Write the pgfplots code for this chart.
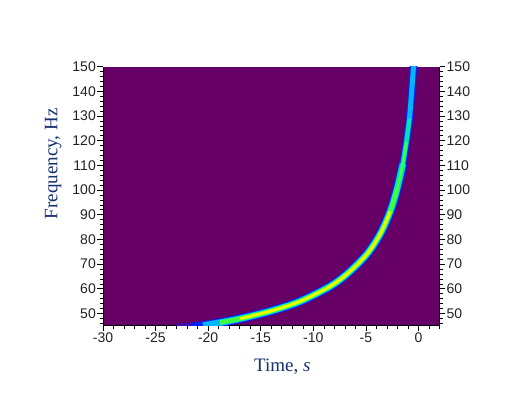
\documentclass[border=0pt]{standalone}
\usepackage{pgfplots}
\usepackage{pgfplotstable}
\usepackage{fontspec}
\pgfplotsset{compat=1.18}
\setmainfont{Liberation Sans}
\newfontfamily\labelfont{Liberation Serif}
\definecolor{bgc}{HTML}{660066}
\definecolor{labc}{HTML}{14306E}
\definecolor{tickc}{HTML}{222222}
\definecolor{c1}{HTML}{3A10B0}
\definecolor{c2}{HTML}{0020FF}
\definecolor{c3}{HTML}{00B4FF}
\definecolor{c4}{HTML}{00E8B0}
\definecolor{c5}{HTML}{40FF40}
\definecolor{c6}{HTML}{E8FF00}

% ridge of the spectrogram
\pgfplotstableread{
t f
-23.0 44.0
-21.5 44.5
-20.49 45.1
-18.87 46.3
-16.96 47.9
-14.11 50.9
-11.26 54.9
-8.40 61.0
-6.69 66.4
-4.91 74.0
-3.64 82.2
-2.69 91.3
-2.05 100.2
-1.48 110.6
-1.15 119.5
-0.86 129.0
-0.69 137.5
-0.47 150.0
-0.35 157.0
}\ridge

\pgfplotsset{
  common/.style={
    scale only axis, width=336.5pt, height=259.2pt,
    at={(103pt,83.2pt)}, anchor=south west,
    xmin=-30, xmax=2, ymin=45, ymax=150,
    ytick={50,60,...,150}, minor ytick={46,48,...,150},
    tick align=outside,
    major tick length=5.5pt, minor tick length=3pt,
    tick style={black, line width=0.6pt},
    /pgf/number format/assume math mode=true,
    tick label style={font=\fontsize{14}{14}\selectfont, color=tickc, inner sep=1.5pt},
    axis line style={black, line width=0.6pt},
  },
  band/.style={no markers, smooth, line cap=butt, forget plot},
}
% colour, width, domain of one layer of the band
\newcommand\layer[4]{\addplot[band, #1, line width=#2pt, restrict x to domain=#3:#4] table[x=t,y=f] {\ridge};}

\begin{document}
\begin{tikzpicture}[x=1pt,y=1pt]
\useasboundingbox (0,0) rectangle (529,409);
\begin{axis}[common,
  axis background/.style={fill=bgc},
  axis x line*=bottom, axis y line*=left,
  xtick={-30,-25,...,0}, minor xtick={-29,-28,...,2},
  xlabel={\labelfont Time, \textit{s}},
  xlabel style={font=\fontsize{19}{19}\selectfont, color=labc, at={(axis description cs:0.533,-0.116)}, anchor=north},
  ylabel={\labelfont Frequency,\ Hz},
  ylabel style={font=\fontsize{19}{19}\selectfont, color=labc, at={(axis description cs:-0.113,0.625)}, anchor=south},
]
\layer{c1}{9.2}{-23}{-1.4}
\layer{c1}{7.6}{-2}{0}
\layer{c2}{8}{-21.5}{-1.4}
\layer{c2}{6.6}{-2}{0}
\layer{c3}{6.6}{-20.5}{-1.4}
\layer{c3}{5}{-2}{0}
\layer{c4}{5.4}{-19}{-1.4}
\layer{c4}{3.8}{-2}{-0.8}
\layer{c5}{4.4}{-18.9}{-2}
\layer{c5}{2.6}{-2.7}{-1.1}
\layer{c6}{3}{-17}{-2.6}
\end{axis}
\begin{axis}[common,
  axis x line=none, axis y line*=right,
]
\addplot[draw=none, forget plot] coordinates {(-30,45)(2,150)};
\end{axis}
\end{tikzpicture}
\end{document}
